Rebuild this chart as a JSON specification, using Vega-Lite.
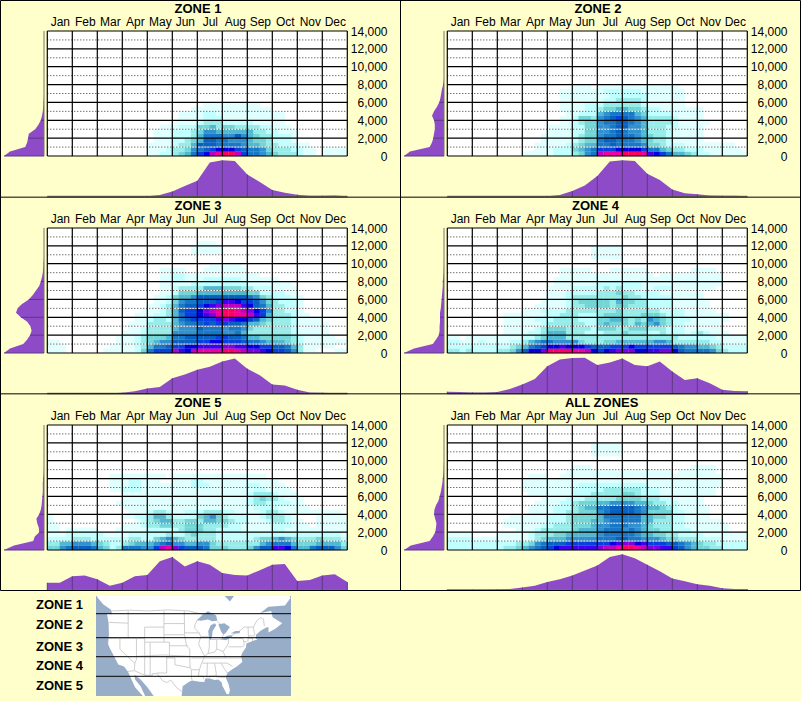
{"$schema":"https://vega.github.io/schema/vega-lite/v6.json","width":801,"height":701,"padding":0,"autosize":{"type":"none"},"background":"#FFFFCC","config":{"view":{"stroke":null},"axis":{"labelFont":"Liberation Sans","labelFontSize":12,"labelColor":"#000"},"text":{"font":"Liberation Sans"}},
"datasets":{
"plot":[{"a":0.5,"b":48.5,"c":0,"d":14000}],
"ocean":[{"a":0,"b":1,"c":0,"d":100}],
"zero":[{"z":0}],
"mon":[{"m":0.5},{"m":4.5},{"m":8.5},{"m":12.5},{"m":16.5},{"m":20.5},{"m":24.5},{"m":28.5},{"m":32.5},{"m":36.5},{"m":40.5},{"m":44.5},{"m":48.5}],
"sol":[{"k":0},{"k":2000},{"k":4000},{"k":6000},{"k":8000},{"k":10000},{"k":12000},{"k":14000}],
"dot":[{"k":1000},{"k":3000},{"k":5000},{"k":7000},{"k":9000},{"k":11000},{"k":13000}],
"c1":[
{"e":250,"v":[0,0,0,0,0,0,0,0,0,0,0,0,0,0,0,0,1,1,2,2,3,4,5,7,9,10,13,14,15,15,13,9,7,7,6,5,4,3,3,3,2,1,1,0,1,1,1,1]},
{"e":750,"v":[0,0,0,0,0,0,0,0,0,0,0,0,0,0,0,0,1,1,1,2,3,3,4,6,7,8,9,10,10,10,9,8,7,7,6,4,3,3,3,2,2,1,1,0,1,1,1,1]},
{"e":1250,"v":[0,0,0,0,0,0,0,0,0,0,0,0,0,0,0,0,1,1,1,1,2,3,3,5,8,8,8,7,7,7,7,6,5,5,4,3,3,2,2,2,1,1]},
{"e":1750,"v":[0,0,0,0,0,0,0,0,0,0,0,0,0,0,0,0,0,1,1,1,2,2,3,4,5,8,8,7,7,6,6,6,5,4,4,3,2,2,2,1]},
{"e":2250,"v":[0,0,0,0,0,0,0,0,0,0,0,0,0,0,0,0,0,1,1,1,2,2,2,3,5,7,7,7,6,6,8,6,5,4,3,3,2,2,2,1]},
{"e":2750,"v":[0,0,0,0,0,0,0,0,0,0,0,0,0,0,0,0,0,1,1,1,2,2,2,3,4,6,6,5,5,5,5,5,5,3,3,2,2,1,1,1]},
{"e":3250,"v":[0,0,0,0,0,0,0,0,0,0,0,0,0,0,0,0,0,0,1,1,1,2,2,2,4,4,5,3,4,4,3,3,3,3,2,2,1,1,1]},
{"e":3750,"v":[0,0,0,0,0,0,0,0,0,0,0,0,0,0,0,0,0,0,0,0,1,1,1,1,2,3,3,3,2,2,2,2,2,1,1,1,1,1]},
{"e":4250,"v":[0,0,0,0,0,0,0,0,0,0,0,0,0,0,0,0,0,0,0,0,0,1,1,1,1,2,2,2,1,1,1,1,1,1,1,1,1,1]},
{"e":4750,"v":[0,0,0,0,0,0,0,0,0,0,0,0,0,0,0,0,0,0,0,0,0,1,1,1,1,2,2,1,1,1,1,1,1,1,1,1,1,1]},
{"e":5250,"v":[0,0,0,0,0,0,0,0,0,0,0,0,0,0,0,0,0,0,0,0,0,0,0,1,1,1,1,1,1,1,1,1,1,1,1,1]},
{"e":5750,"v":[0,0,0,0,0,0,0,0,0,0,0,0,0,0,0,0,0,0,0,0,0,0,0,0,0,1,1,1,1,1,1,1,1,1]}],
"c2":[
{"e":250,"v":[0,0,0,0,0,0,0,0,0,0,0,0,1,1,1,1,1,2,2,2,3,4,6,7,13,14,14,14,15,15,15,14,11,10,9,7,5,5,4,3,2,2,1,1,1,1,1,1]},
{"e":750,"v":[0,0,0,0,0,0,0,0,0,0,0,0,0,0,1,1,1,2,2,2,4,5,6,7,9,9,9,10,10,10,10,9,7,7,5,4,3,3,2,2,2,1,1,1,1,1,1]},
{"e":1250,"v":[0,0,0,0,0,0,0,0,0,0,0,0,0,0,1,1,1,1,1,2,3,4,5,5,7,7,8,7,7,7,7,6,4,4,3,2,2,2,1,1,1,1,1,1,1,1]},
{"e":1750,"v":[0,0,0,0,0,0,0,0,0,0,0,0,0,0,0,1,1,1,1,1,2,3,4,4,7,8,8,7,7,7,6,5,4,3,3,2,1,1,1,1,1]},
{"e":2250,"v":[0,0,0,0,0,0,0,0,0,0,0,0,0,0,0,1,1,1,1,1,2,3,4,4,6,7,7,8,7,7,6,5,4,3,3,2,1,1,1,1,1]},
{"e":2750,"v":[0,0,0,0,0,0,0,0,0,0,0,0,0,0,0,0,1,1,1,1,2,2,4,4,6,6,7,8,7,6,6,5,3,3,3,2,1,1,1,1,1]},
{"e":3250,"v":[0,0,0,0,0,0,0,0,0,0,0,0,0,0,0,0,1,1,1,1,2,2,4,4,6,6,7,8,8,6,6,5,3,3,3,2,2,1,1,1,1]},
{"e":3750,"v":[0,0,0,0,0,0,0,0,0,0,0,0,0,0,0,0,0,0,1,1,2,3,4,4,6,7,7,8,8,7,6,5,3,3,3,3,2,1,1,1,1,1]},
{"e":4250,"v":[0,0,0,0,0,0,0,0,0,0,0,0,0,0,0,0,0,0,1,1,2,4,4,3,6,7,8,9,8,7,6,5,3,3,3,3,2,1,1,1,1]},
{"e":4750,"v":[0,0,0,0,0,0,0,0,0,0,0,0,0,0,0,0,0,0,0,1,1,2,2,2,5,6,7,7,7,7,5,4,2,2,2,2,1,1,1,1,1]},
{"e":5250,"v":[0,0,0,0,0,0,0,0,0,0,0,0,0,0,0,0,0,0,1,1,1,1,2,2,3,4,4,5,5,4,4,3,2,2,1,1,1,1,1,1,1]},
{"e":5750,"v":[0,0,0,0,0,0,0,0,0,0,0,0,0,0,0,0,0,0,1,1,1,1,2,2,2,3,3,3,3,3,3,2,1,1,1,1,1,1]},
{"e":6250,"v":[0,0,0,0,0,0,0,0,0,0,0,0,0,0,0,0,0,0,1,1,1,1,1,1,1,2,2,3,3,3,3,2,1,1,1,1,1,1]},
{"e":6750,"v":[0,0,0,0,0,0,0,0,0,0,0,0,0,0,0,0,0,0,1,1,1,1,1,1,1,1,2,2,2,2,2,2,1,1,1,1,1,1]},
{"e":7250,"v":[0,0,0,0,0,0,0,0,0,0,0,0,0,0,0,0,0,0,1,1,1,1,1,1,1,2,2,2,2,2,2,1,1,1,1,1,1,1]},
{"e":7750,"v":[0,0,0,0,0,0,0,0,0,0,0,0,0,0,0,0,0,0,0,0,1,1,1,0,1,1,1,1,1,1,1,1,1,1,1,1,1]}],
"c3":[
{"e":250,"v":[1,1,1,0,0,0,0,0,0,1,1,1,1,1,2,4,7,9,9,9,13,11,10,13,14,14,14,14,15,15,14,13,12,12,11,10,9,9,8,6,3,1,1,0,0,0,1,1]},
{"e":750,"v":[1,1,1,0,0,0,0,0,0,0,1,1,1,1,2,3,5,7,7,8,9,9,10,10,11,11,11,11,12,12,11,11,10,10,9,9,8,8,7,5,3,1,1,1,1,1]},
{"e":1250,"v":[1,1,0,0,0,0,0,0,0,0,0,1,1,1,2,3,4,5,6,6,8,8,8,8,9,9,10,10,9,9,9,8,7,7,6,5,5,5,4,3,2,1,1,1,1,1,1,1]},
{"e":1750,"v":[0,0,0,0,0,0,0,0,0,0,0,1,1,1,2,3,4,4,4,5,7,7,8,8,8,8,8,9,9,8,8,7,5,5,4,4,4,4,4,3,2,1,1,1,1,1]},
{"e":2250,"v":[0,0,0,0,0,0,0,0,0,0,0,0,1,1,1,2,3,3,3,3,6,6,6,6,7,7,7,7,6,6,7,5,3,3,3,3,3,3,3,2,1,1,1,1,1]},
{"e":2750,"v":[0,0,0,0,0,0,0,0,0,0,0,0,0,1,1,2,3,3,3,3,5,6,6,6,8,7,7,7,6,7,7,6,4,3,3,3,3,3,3,2,1,1,1,1,1]},
{"e":3250,"v":[0,0,0,0,0,0,0,0,0,0,0,0,0,1,1,1,3,3,3,3,5,6,7,7,8,9,8,9,9,8,8,7,5,5,4,3,3,3,3,2,1,1,1,1,1]},
{"e":3750,"v":[0,0,0,0,0,0,0,0,0,0,0,0,0,0,1,1,2,3,3,2,5,7,8,9,9,9,9,11,12,11,10,10,9,8,5,4,3,3,3,2,1,1,1,1]},
{"e":4250,"v":[0,0,0,0,0,0,0,0,0,0,0,0,0,0,1,1,1,2,2,3,5,7,9,9,10,11,12,14,15,15,14,14,13,11,9,5,3,3,3,2,1,1]},
{"e":4750,"v":[0,0,0,0,0,0,0,0,0,0,0,0,0,0,0,1,1,1,2,3,5,8,9,9,10,12,13,14,15,15,14,13,12,10,9,6,3,3,2,2,1]},
{"e":5250,"v":[0,0,0,0,0,0,0,0,0,0,0,0,0,0,0,0,1,1,2,3,5,7,8,8,9,10,11,12,13,13,13,11,10,8,7,5,3,3,2,2,1]},
{"e":5750,"v":[0,0,0,0,0,0,0,0,0,0,0,0,0,0,0,0,0,1,1,2,4,6,7,7,8,8,8,9,11,11,10,9,9,8,6,4,3,2,2,2,1]},
{"e":6250,"v":[0,0,0,0,0,0,0,0,0,0,0,0,0,0,0,0,0,1,1,2,4,5,5,6,8,8,8,8,8,8,8,8,7,6,4,3,2,2,2,1,1]},
{"e":6750,"v":[0,0,0,0,0,0,0,0,0,0,0,0,0,0,0,0,0,0,1,1,2,4,4,4,5,5,5,5,5,5,5,5,4,4,2,2,2,2,1,1]},
{"e":7250,"v":[0,0,0,0,0,0,0,0,0,0,0,0,0,0,0,0,0,0,1,1,2,3,3,3,3,5,5,5,4,4,4,3,3,2,2,2,1,1,1,1]},
{"e":7750,"v":[0,0,0,0,0,0,0,0,0,0,0,0,0,0,0,0,0,0,1,1,1,1,1,2,2,2,2,2,2,2,2,2,1,1,1,1,1,1,1]},
{"e":8250,"v":[0,0,0,0,0,0,0,0,0,0,0,0,0,0,0,0,0,0,1,1,2,2,1,1,1,2,2,2,2,2,2,1,1,1,1,1,1]},
{"e":8750,"v":[0,0,0,0,0,0,0,0,0,0,0,0,0,0,0,0,0,0,1,1,2,2,1,1,1,1,1,1,1,1,1,1,1,1]},
{"e":9250,"v":[0,0,0,0,0,0,0,0,0,0,0,0,0,0,0,0,0,0,1,1,1,1,0,0,0,1,1,1,1,1,1,1]},
{"e":9750,"v":[0,0,0,0,0,0,0,0,0,0,0,0,0,0,0,0,0,0,0,0,0,0,0,0,0,0,1,1,1,1,1]},
{"e":11250,"v":[0,0,0,0,0,0,0,0,0,0,0,0,0,0,0,0,0,0,0,0,0,0,0,1,1,1,1,1]},
{"e":11750,"v":[0,0,0,0,0,0,0,0,0,0,0,0,0,0,0,0,0,0,0,0,0,0,0,1,1,1,1,1]},
{"e":12250,"v":[0,0,0,0,0,0,0,0,0,0,0,0,0,0,0,0,0,0,0,0,0,0,0,0,1,1,1]}],
"c4":[
{"e":250,"v":[3,3,2,3,2,2,2,2,3,3,4,6,8,10,10,12,15,15,15,15,14,14,13,10,9,10,11,12,12,12,10,10,11,11,12,12,10,8,7,7,7,7,6,4,3,2,2,2]},
{"e":750,"v":[2,2,2,2,2,2,2,2,2,2,3,4,5,7,8,9,10,10,11,10,10,10,9,8,8,8,9,9,9,10,9,9,9,9,9,9,8,7,6,6,5,5,4,3,2,2,2,2]},
{"e":1250,"v":[2,2,1,1,1,2,1,1,1,1,2,2,3,5,6,7,7,6,6,6,6,4,3,3,3,4,4,5,5,5,5,5,5,6,6,5,3,3,3,3,3,3,2,2,1,1,1,1]},
{"e":1750,"v":[1,1,0,1,1,1,1,1,1,1,1,1,2,2,3,4,5,5,5,3,3,3,3,3,3,3,3,3,3,3,3,3,3,3,3,3,3,2,2,2,2,2,2,1,1,1,1,1]},
{"e":2250,"v":[0,0,0,0,0,0,0,0,0,1,1,1,1,2,2,3,5,5,5,3,3,3,2,2,2,3,3,3,4,3,3,3,2,2,3,2,2,2,1,2,3,2,1,1,1]},
{"e":2750,"v":[0,0,0,0,0,0,0,0,0,1,1,1,1,1,2,3,4,4,4,3,3,3,3,2,4,4,4,3,3,4,4,4,3,3,3,2,2,2,1,1,1,1,1,1]},
{"e":3250,"v":[0,0,0,0,0,0,0,0,0,1,1,1,1,1,1,2,3,3,3,3,3,3,2,2,4,5,4,4,4,3,5,4,5,6,4,3,2,2,1,1,1,1,1,1]},
{"e":3750,"v":[0,0,0,0,0,0,0,0,0,1,1,1,1,1,2,2,2,3,3,3,3,2,2,2,4,4,5,5,4,3,4,3,6,5,4,3,2,2,2,1,1,1,1,1,1]},
{"e":4250,"v":[0,0,0,0,0,0,0,0,0,1,1,1,1,1,1,1,2,2,3,3,3,2,2,2,3,4,4,4,3,3,3,4,4,4,3,2,2,2,1,1,1,1,1,1,1]},
{"e":4750,"v":[0,0,0,0,0,0,0,0,0,0,0,0,1,1,1,2,2,2,2,3,3,3,3,3,3,3,3,4,3,3,3,3,3,3,2,2,2,2,1,1,1,1,1]},
{"e":5250,"v":[0,0,0,0,0,0,0,0,0,0,0,0,0,0,1,1,1,1,1,2,3,3,4,4,4,4,3,4,4,3,3,3,2,2,2,2,1,1,1,1,1,1]},
{"e":5750,"v":[0,0,0,0,0,0,0,0,0,0,0,0,0,0,0,1,1,1,1,2,3,4,4,4,4,4,3,5,4,4,3,3,2,2,2,2,1,1,1,1,1,1]},
{"e":6250,"v":[0,0,0,0,0,0,0,0,0,0,0,0,0,0,0,0,1,1,1,2,3,3,3,3,3,3,3,3,4,3,3,2,2,2,2,2,1,1,1,1,1]},
{"e":6750,"v":[0,0,0,0,0,0,0,0,0,0,0,0,0,0,0,0,1,1,1,2,2,2,2,2,3,3,3,4,3,3,2,2,2,2,1,1,1,1,1,1,1]},
{"e":7250,"v":[0,0,0,0,0,0,0,0,0,0,0,0,0,0,0,0,1,1,1,1,2,2,2,2,2,3,2,3,2,2,2,1,1,2,2,2,1,1,1,1,1,1,1]},
{"e":7750,"v":[0,0,0,0,0,0,0,0,0,0,0,0,0,0,0,0,0,1,1,1,1,1,1,1,2,2,2,2,2,2,2,1,1,1,1,1,1,1,1,1,1,1,1,1]},
{"e":8250,"v":[0,0,0,0,0,0,0,0,0,0,0,0,0,0,0,0,0,1,1,1,1,1,1,1,1,1,1,1,1,1,1,1,1,1,1,1,1,1,1,1,1,1,1,1]},
{"e":8750,"v":[0,0,0,0,0,0,0,0,0,0,0,0,0,0,0,0,0,0,1,1,1,1,1,1,1,1,1,1,1,1,1,1,1,0,1,1,1,1,1,1,1,1,1,1]},
{"e":9250,"v":[0,0,0,0,0,0,0,0,0,0,0,0,0,0,0,0,0,0,1,1,1,1,1,0,0,0,1,1,1,1,1,1,0,0,0,0,0,0,0,1,1,1,1]},
{"e":11250,"v":[0,0,0,0,0,0,0,0,0,0,0,0,0,0,0,0,0,0,0,0,0,0,0,1,1,1,1,1]},
{"e":11750,"v":[0,0,0,0,0,0,0,0,0,0,0,0,0,0,0,0,0,0,0,0,0,0,0,1,1,1,1,1]},
{"e":10750,"v":[0,0,0,0,0,0,0,0,0,0,0,0,0,0,0,0,0,0,0,0,0,0,0,1,1,1,1,1]}],
"c5":[
{"e":250,"v":[4,4,6,7,8,8,8,7,5,4,2,3,7,7,7,6,6,9,13,14,12,9,8,8,8,7,4,4,4,3,3,3,4,6,8,8,11,11,10,7,5,5,7,8,8,8,6,4]},
{"e":750,"v":[3,3,5,5,6,6,6,5,4,3,2,2,3,4,5,5,5,6,7,8,6,6,5,5,6,6,4,3,3,3,3,3,3,3,5,6,7,7,7,5,4,4,4,5,5,5,5,3]},
{"e":1250,"v":[2,2,2,2,3,3,3,2,2,2,2,2,2,3,3,2,2,4,5,6,5,4,3,3,3,3,3,2,2,2,2,2,2,3,4,4,5,6,5,4,3,3,3,4,3,3,3,2]},
{"e":1750,"v":[1,1,1,2,2,2,2,2,2,1,1,1,1,2,2,2,2,2,2,3,2,2,3,4,3,3,3,2,2,2,2,2,2,2,2,2,2,2,2,2,2,2,2,2,2,2,2,1]},
{"e":2250,"v":[1,1,0,1,1,1,1,1,0,0,0,1,1,1,1,1,2,2,2,2,2,3,4,4,4,3,3,2,2,2,2,1,1,1,1,1,2,2,1,1,1,1,1,1,1,1,1,1]},
{"e":2750,"v":[1,1,0,0,0,0,0,0,0,0,0,0,1,1,1,2,3,3,4,4,3,3,4,4,4,3,3,3,3,2,2,1,1,1,1,1,2,2,2,1,1,1,0,1,1,1,1,1]},
{"e":3250,"v":[1,0,0,0,0,0,0,0,0,0,0,0,0,0,1,2,3,4,5,5,3,3,4,4,3,5,5,4,4,3,2,2,1,1,1,2,3,3,2,1,1,0,0,1,1,1,1,1]},
{"e":3750,"v":[1,0,0,0,0,0,0,0,0,0,0,0,1,1,2,2,3,5,5,3,2,2,2,2,4,5,6,4,3,2,2,2,1,1,2,3,3,3,2,1,0,0,0,1,1,1,1,1]},
{"e":4250,"v":[0,0,0,0,0,0,0,0,0,0,0,0,0,1,1,1,2,3,3,2,1,1,2,2,2,3,3,3,2,2,1,1,1,1,2,3,3,2,1,1,1,1,1,1,1,1,1]},
{"e":4750,"v":[0,0,0,0,0,0,0,0,0,0,0,0,1,1,1,1,1,1,1,1,1,1,1,1,1,1,1,1,1,1,1,1,1,2,2,2,2,1,1,1,1,1]},
{"e":5250,"v":[0,0,0,0,0,0,0,0,0,0,0,1,1,1,1,1,1,1,1,1,1,1,1,1,1,1,1,1,1,1,1,1,2,3,3,2,2,2,2,1,1]},
{"e":5750,"v":[0,0,0,0,0,0,0,0,0,0,0,0,1,1,1,1,1,1,1,1,1,1,1,1,1,1,1,1,1,1,1,1,2,3,4,3,3,2,1,1,1]},
{"e":6250,"v":[0,0,0,0,0,0,0,0,0,0,0,0,1,1,1,1,1,1,1,1,1,1,1,1,1,1,1,1,1,1,1,1,2,3,3,3,2,1,1,1]},
{"e":6750,"v":[0,0,0,0,0,0,0,0,0,0,1,1,2,2,2,1,1,1,1,1,1,1,1,1,1,1,1,1,1,1,1,1,1,2,2,1,1,1,1]},
{"e":7250,"v":[0,0,0,0,0,0,0,0,0,0,1,1,1,2,2,1,1,1,1,1,1,1,1,2,2,2,1,1,1,1,1,1,2,2,1,1,1,1]},
{"e":7750,"v":[0,0,0,0,0,0,0,0,0,0,1,1,1,2,2,1,1,1,0,0,1,1,1,2,2,1,1,1,1,1,1,1,1,1,1,1,1]},
{"e":8250,"v":[0,0,0,0,0,0,0,0,0,0,1,1,1,1,1,1,1,1,1,0,1,1,1,1,1,1,1,1,1,1,1,1,1,1,1]}],
"c6":[
{"e":250,"v":[2,2,2,2,2,2,2,2,2,3,3,4,5,6,7,8,9,10,11,11,11,11,11,11,12,13,13,14,15,15,14,13,12,12,11,11,9,8,6,5,4,4,3,3,2,2,2,2]},
{"e":750,"v":[2,2,2,2,2,2,2,2,2,2,2,3,3,4,6,7,8,8,8,9,9,9,9,9,9,9,10,11,12,12,10,11,9,9,9,8,8,7,6,5,4,3,3,2,2,2,2,2]},
{"e":1250,"v":[2,2,2,2,1,1,1,1,1,1,1,1,1,2,3,4,5,5,5,6,6,6,6,6,7,7,7,8,8,7,7,6,6,6,5,4,4,3,3,3,2,2,2,2,1,1,1,1]},
{"e":1750,"v":[1,1,1,1,0,0,0,0,1,1,1,1,1,2,3,3,3,4,4,5,5,5,5,5,6,7,7,7,7,7,6,5,5,4,4,3,3,2,2,2,2,1,1,1,1,1,1,1]},
{"e":2250,"v":[0,0,0,0,0,0,0,0,0,0,0,1,1,1,2,3,3,3,3,3,4,5,5,5,6,7,7,7,6,7,6,5,4,4,3,3,2,2,2,1,1,1,1,1,1]},
{"e":2750,"v":[0,0,0,0,0,0,0,0,0,1,1,1,1,1,1,2,2,3,3,3,4,4,4,5,6,6,7,7,7,6,6,5,4,3,3,3,2,2,1,1,1,1,1,1,1]},
{"e":3250,"v":[0,0,0,0,0,0,0,0,0,1,1,1,1,1,1,1,2,2,2,3,4,4,4,5,5,6,7,7,7,7,7,5,5,3,3,3,2,2,1,1,1,1,1,1]},
{"e":3750,"v":[0,0,0,0,0,0,0,0,0,0,1,1,1,1,1,1,2,2,2,3,4,4,4,4,5,7,7,7,7,7,7,5,5,4,4,3,2,2,1,1,1,1]},
{"e":4250,"v":[0,0,0,0,0,0,0,0,0,0,0,0,0,1,1,1,1,2,2,3,3,4,4,4,6,7,8,8,8,8,7,6,4,4,4,4,2,2,1,1,1,1]},
{"e":4750,"v":[0,0,0,0,0,0,0,0,0,0,0,0,0,1,1,1,1,2,2,2,3,4,5,5,7,7,8,8,8,8,7,6,5,5,4,3,2,1,1,1,1,1]},
{"e":5250,"v":[0,0,0,0,0,0,0,0,0,0,0,0,0,0,1,1,1,1,2,2,3,4,4,4,5,5,6,6,6,6,5,5,4,3,3,2,2,1,1,1,1]},
{"e":5750,"v":[0,0,0,0,0,0,0,0,0,0,0,0,0,0,0,1,1,1,1,2,2,2,3,3,3,3,3,4,4,4,4,3,3,3,2,2,1,1,1,1,1]},
{"e":6250,"v":[0,0,0,0,0,0,0,0,0,0,0,0,0,1,1,1,1,1,1,1,2,2,2,3,3,3,3,3,4,4,3,2,2,2,1,1,1,1,1,1,1,1,1]},
{"e":6750,"v":[0,0,0,0,0,0,0,0,0,0,0,0,1,1,1,1,1,1,1,1,2,2,2,2,2,3,3,3,3,3,3,2,2,2,1,1,1,1,1,1,1,1,1]},
{"e":7250,"v":[0,0,0,0,0,0,0,0,0,0,0,0,1,1,1,1,1,1,1,1,1,2,2,2,2,2,2,2,2,2,2,2,1,1,1,1,1,1,1,1,1,1,1,1]},
{"e":7750,"v":[0,0,0,0,0,0,0,0,0,0,0,0,1,1,1,1,1,1,1,1,1,1,1,1,1,1,1,1,1,1,1,1,1,1,1,1,1,1,1,1,1,1,1,1]},
{"e":8250,"v":[0,0,0,0,0,0,0,0,0,0,0,0,0,1,1,1,0,0,1,1,1,1,1,1,1,1,1,1,1,1,1,1,1,1,1,1,1,1,1,1,1,1,1,1]},
{"e":8750,"v":[0,0,0,0,0,0,0,0,0,0,0,0,0,0,0,0,0,0,0,1,1,1,1,1,1,1,1,1,1,1,1,1,1,1,1,1,0,1,1,1,1,1,1]},
{"e":9250,"v":[0,0,0,0,0,0,0,0,0,0,0,0,0,0,0,0,0,0,0,0,1,1,1,0,0,0,0,0,0,0,0,0,0,0,0,0,0,0,0,1,1,1,1]},
{"e":10750,"v":[0,0,0,0,0,0,0,0,0,0,0,0,0,0,0,0,0,0,0,0,0,0,0,1,1,1,1,1]},
{"e":11250,"v":[0,0,0,0,0,0,0,0,0,0,0,0,0,0,0,0,0,0,0,0,0,0,0,1,1,1,1,1]},
{"e":11750,"v":[0,0,0,0,0,0,0,0,0,0,0,0,0,0,0,0,0,0,0,0,0,0,0,1,1,1,1,1]}],
"b1":[{"h":[0.5,0.5,0.5,0.5,0.5,0.5,0.5,0.5,1,4,14,29,43,93,99,97,60,40,18,10,5,2,2,3,1]}],
"b2":[{"h":[0.5,0.5,0.5,0.5,0.5,0.5,0.5,1,1,4,15,30,56,96,99,97,62,45,19,9,6,3,2,2,1]}],
"b3":[{"h":[1,1,1,1,1,1,2,6,14,18,42,52,65,73,88,96,68,50,25,22,10,3,2,1,1]}],
"b4":[{"h":[5,4,3,3,4,12,25,40,75,93,97,98,78,85,96,78,75,88,60,37,42,28,10,7,6]}],
"b5":[{"h":[20,20,38,40,30,12,20,38,42,80,92,65,80,70,47,42,40,55,70,72,25,28,40,44,22]}],
"b6":[{"h":[1,1,1,1,1.5,3,7,12,22,30,40,54,68,92,99,88,70,52,32,24,16,12,5,3,2]}],
"l1":[{"h":[100,85,47,42,40,38,22,14,8,5,3,2,1,0.5,0,0,0,0,0,0,0,0,0,0,0,0,0,0,0]}],
"l2":[{"h":[100,85,36,30,27,25,23,23,25,30,25,18,12,9,7,5,2,0.5,0,0,0,0,0,0,0,0,0,0,0]}],
"l3":[{"h":[100,85,52,42,35,31,34,42,58,70,66,55,38,28,20,12,8,5,3,2,1,0.5,0,0,0,0,0,0,0]}],
"l4":[{"h":[100,75,28,20,13,11,11,10,10,10,8,7,6,5,4,3,3,2,1,0.5,0,0,0,0,0,0,0,0,0]}],
"l5":[{"h":[100,75,27,23,12,13,17,19,12,8,6,5,4,3,3,3,2,1,0.5,0,0,0,0,0,0,0,0,0,0]}],
"l6":[{"h":[100,83,36,28,22,20,19,22,25,24,20,14,11,8,6,4,3,2,1,0.5,0,0,0,0,0,0,0,0,0]}]
},
"resolve":{"scale":{"x":"independent","y":"independent"},"axis":{"x":"independent","y":"independent"}},
"layer":[
{"resolve":{"axis":{"x":"independent","y":"independent"}},"layer":[
{"data":{"name":"plot"},"mark":{"type":"rect","color":"#fff"},"encoding":{"x":{"field":"a","type":"quantitative","axis":null},"x2":{"field":"b"},"y":{"field":"c","type":"quantitative","axis":null},"y2":{"field":"d"}}},
{"data":{"name":"c1"},"transform":[{"flatten":["v"]},{"window":[{"op":"row_number","as":"c"}],"groupby":["e"]},{"filter":"datum.v>0"}],"mark":{"type":"rect","width":6.5,"height":4.7},"encoding":{"x":{"field":"c","type":"quantitative","scale":{"domain":[0.5,48.5],"range":[47.3,347.3],"nice":false,"zero":false},"axis":{"orient":"top","offset":-31,"values":[2.5,6.5,10.5,14.5,18.5,22.5,26.5,30.5,34.5,38.5,42.5,46.5],"labelExpr":"['Jan','Feb','Mar','Apr','May','Jun','Jul','Aug','Sep','Oct','Nov','Dec'][round((datum.value-2.5)/4)]","domain":false,"ticks":false,"grid":false,"title":null,"labelPadding":3,"labelOverlap":false,"labelFlush":false}},"y":{"field":"e","type":"quantitative","scale":{"domain":[0,14000],"range":[156,31],"nice":false,"zero":false},"axis":{"orient":"right","offset":-454,"values":[0,2000,4000,6000,8000,10000,12000,14000],"labelExpr":"datum.value===0?'0\u00a0\u00a0\u00a0\u00a0\u00a0\u00a0\u00a0':format(datum.value,',')","domain":false,"ticks":false,"grid":false,"title":null,"labelPadding":40,"labelAlign":"right","labelBaseline":"middle","labelOverlap":false,"labelFlush":false}},"color":{"field":"v","type":"quantitative","legend":null,"scale":{"domain":[1,2,3,4,5,6,7,8,9,10,11,12,13,14,15],"range":["#E0FFFF","#BFFFFF","#96ECE8","#73D5D5","#50B8D0","#3090D0","#1878C8","#0860C0","#0840E0","#0000E0","#4000F0","#8000E0","#C000C0","#F000A0","#FF0060"]}}}},
{"data":{"name":"dot"},"mark":{"type":"rule","color":"#fff"},"encoding":{"x":{"datum":0.5,"axis":null},"x2":{"datum":48.5},"y":{"field":"k","type":"quantitative","axis":null}}},
{"data":{"name":"dot"},"mark":{"type":"rule","color":"#333","strokeDash":[1,2]},"encoding":{"x":{"datum":0.5,"axis":null},"x2":{"datum":48.5},"y":{"field":"k","type":"quantitative","axis":null}}},
{"data":{"name":"sol"},"mark":{"type":"rule","color":"#000","strokeWidth":1.2},"encoding":{"x":{"datum":0.5,"axis":null},"x2":{"datum":48.5},"y":{"field":"k","type":"quantitative","axis":null}}},
{"data":{"name":"mon"},"mark":{"type":"rule","color":"#000","strokeWidth":1.2},"encoding":{"x":{"field":"m","type":"quantitative","axis":null},"y":{"datum":0,"axis":null},"y2":{"datum":14000}}},
{"data":{"values":[{"t":"ZONE 1"}]},"mark":{"type":"text","fontWeight":"bold","fontSize":13,"baseline":"middle"},"encoding":{"x":{"datum":24.6,"axis":null},"y":{"datum":16450,"axis":null},"text":{"field":"t"}}}
]},
{"resolve":{"axis":{"x":"independent","y":"independent"}},"layer":[
{"data":{"name":"plot"},"mark":{"type":"rect","color":"#fff"},"encoding":{"x":{"field":"a","type":"quantitative","axis":null},"x2":{"field":"b"},"y":{"field":"c","type":"quantitative","axis":null},"y2":{"field":"d"}}},
{"data":{"name":"c2"},"transform":[{"flatten":["v"]},{"window":[{"op":"row_number","as":"c"}],"groupby":["e"]},{"filter":"datum.v>0"}],"mark":{"type":"rect","width":6.5,"height":4.7},"encoding":{"x":{"field":"c","type":"quantitative","scale":{"domain":[0.5,48.5],"range":[447.3,747.3],"nice":false,"zero":false},"axis":{"orient":"top","offset":-31,"values":[2.5,6.5,10.5,14.5,18.5,22.5,26.5,30.5,34.5,38.5,42.5,46.5],"labelExpr":"['Jan','Feb','Mar','Apr','May','Jun','Jul','Aug','Sep','Oct','Nov','Dec'][round((datum.value-2.5)/4)]","domain":false,"ticks":false,"grid":false,"title":null,"labelPadding":3,"labelOverlap":false,"labelFlush":false}},"y":{"field":"e","type":"quantitative","scale":{"domain":[0,14000],"range":[156,31],"nice":false,"zero":false},"axis":{"orient":"right","offset":-54,"values":[0,2000,4000,6000,8000,10000,12000,14000],"labelExpr":"datum.value===0?'0\u00a0\u00a0\u00a0\u00a0\u00a0\u00a0\u00a0':format(datum.value,',')","domain":false,"ticks":false,"grid":false,"title":null,"labelPadding":40,"labelAlign":"right","labelBaseline":"middle","labelOverlap":false,"labelFlush":false}},"color":{"field":"v","type":"quantitative","legend":null}}},
{"data":{"name":"dot"},"mark":{"type":"rule","color":"#fff"},"encoding":{"x":{"datum":0.5,"axis":null},"x2":{"datum":48.5},"y":{"field":"k","type":"quantitative","axis":null}}},
{"data":{"name":"dot"},"mark":{"type":"rule","color":"#333","strokeDash":[1,2]},"encoding":{"x":{"datum":0.5,"axis":null},"x2":{"datum":48.5},"y":{"field":"k","type":"quantitative","axis":null}}},
{"data":{"name":"sol"},"mark":{"type":"rule","color":"#000","strokeWidth":1.2},"encoding":{"x":{"datum":0.5,"axis":null},"x2":{"datum":48.5},"y":{"field":"k","type":"quantitative","axis":null}}},
{"data":{"name":"mon"},"mark":{"type":"rule","color":"#000","strokeWidth":1.2},"encoding":{"x":{"field":"m","type":"quantitative","axis":null},"y":{"datum":0,"axis":null},"y2":{"datum":14000}}},
{"data":{"values":[{"t":"ZONE 2"}]},"mark":{"type":"text","fontWeight":"bold","fontSize":13,"baseline":"middle"},"encoding":{"x":{"datum":24.6,"axis":null},"y":{"datum":16450,"axis":null},"text":{"field":"t"}}}
]},
{"resolve":{"axis":{"x":"independent","y":"independent"}},"layer":[
{"data":{"name":"plot"},"mark":{"type":"rect","color":"#fff"},"encoding":{"x":{"field":"a","type":"quantitative","axis":null},"x2":{"field":"b"},"y":{"field":"c","type":"quantitative","axis":null},"y2":{"field":"d"}}},
{"data":{"name":"c3"},"transform":[{"flatten":["v"]},{"window":[{"op":"row_number","as":"c"}],"groupby":["e"]},{"filter":"datum.v>0"}],"mark":{"type":"rect","width":6.5,"height":4.7},"encoding":{"x":{"field":"c","type":"quantitative","scale":{"domain":[0.5,48.5],"range":[47.3,347.3],"nice":false,"zero":false},"axis":{"orient":"top","offset":-228,"values":[2.5,6.5,10.5,14.5,18.5,22.5,26.5,30.5,34.5,38.5,42.5,46.5],"labelExpr":"['Jan','Feb','Mar','Apr','May','Jun','Jul','Aug','Sep','Oct','Nov','Dec'][round((datum.value-2.5)/4)]","domain":false,"ticks":false,"grid":false,"title":null,"labelPadding":3,"labelOverlap":false,"labelFlush":false}},"y":{"field":"e","type":"quantitative","scale":{"domain":[0,14000],"range":[353,228],"nice":false,"zero":false},"axis":{"orient":"right","offset":-454,"values":[0,2000,4000,6000,8000,10000,12000,14000],"labelExpr":"datum.value===0?'0\u00a0\u00a0\u00a0\u00a0\u00a0\u00a0\u00a0':format(datum.value,',')","domain":false,"ticks":false,"grid":false,"title":null,"labelPadding":40,"labelAlign":"right","labelBaseline":"middle","labelOverlap":false,"labelFlush":false}},"color":{"field":"v","type":"quantitative","legend":null}}},
{"data":{"name":"dot"},"mark":{"type":"rule","color":"#fff"},"encoding":{"x":{"datum":0.5,"axis":null},"x2":{"datum":48.5},"y":{"field":"k","type":"quantitative","axis":null}}},
{"data":{"name":"dot"},"mark":{"type":"rule","color":"#333","strokeDash":[1,2]},"encoding":{"x":{"datum":0.5,"axis":null},"x2":{"datum":48.5},"y":{"field":"k","type":"quantitative","axis":null}}},
{"data":{"name":"sol"},"mark":{"type":"rule","color":"#000","strokeWidth":1.2},"encoding":{"x":{"datum":0.5,"axis":null},"x2":{"datum":48.5},"y":{"field":"k","type":"quantitative","axis":null}}},
{"data":{"name":"mon"},"mark":{"type":"rule","color":"#000","strokeWidth":1.2},"encoding":{"x":{"field":"m","type":"quantitative","axis":null},"y":{"datum":0,"axis":null},"y2":{"datum":14000}}},
{"data":{"values":[{"t":"ZONE 3"}]},"mark":{"type":"text","fontWeight":"bold","fontSize":13,"baseline":"middle"},"encoding":{"x":{"datum":24.6,"axis":null},"y":{"datum":16450,"axis":null},"text":{"field":"t"}}}
]},
{"resolve":{"axis":{"x":"independent","y":"independent"}},"layer":[
{"data":{"name":"plot"},"mark":{"type":"rect","color":"#fff"},"encoding":{"x":{"field":"a","type":"quantitative","axis":null},"x2":{"field":"b"},"y":{"field":"c","type":"quantitative","axis":null},"y2":{"field":"d"}}},
{"data":{"name":"c4"},"transform":[{"flatten":["v"]},{"window":[{"op":"row_number","as":"c"}],"groupby":["e"]},{"filter":"datum.v>0"}],"mark":{"type":"rect","width":6.5,"height":4.7},"encoding":{"x":{"field":"c","type":"quantitative","scale":{"domain":[0.5,48.5],"range":[447.3,747.3],"nice":false,"zero":false},"axis":{"orient":"top","offset":-228,"values":[2.5,6.5,10.5,14.5,18.5,22.5,26.5,30.5,34.5,38.5,42.5,46.5],"labelExpr":"['Jan','Feb','Mar','Apr','May','Jun','Jul','Aug','Sep','Oct','Nov','Dec'][round((datum.value-2.5)/4)]","domain":false,"ticks":false,"grid":false,"title":null,"labelPadding":3,"labelOverlap":false,"labelFlush":false}},"y":{"field":"e","type":"quantitative","scale":{"domain":[0,14000],"range":[353,228],"nice":false,"zero":false},"axis":{"orient":"right","offset":-54,"values":[0,2000,4000,6000,8000,10000,12000,14000],"labelExpr":"datum.value===0?'0\u00a0\u00a0\u00a0\u00a0\u00a0\u00a0\u00a0':format(datum.value,',')","domain":false,"ticks":false,"grid":false,"title":null,"labelPadding":40,"labelAlign":"right","labelBaseline":"middle","labelOverlap":false,"labelFlush":false}},"color":{"field":"v","type":"quantitative","legend":null}}},
{"data":{"name":"dot"},"mark":{"type":"rule","color":"#fff"},"encoding":{"x":{"datum":0.5,"axis":null},"x2":{"datum":48.5},"y":{"field":"k","type":"quantitative","axis":null}}},
{"data":{"name":"dot"},"mark":{"type":"rule","color":"#333","strokeDash":[1,2]},"encoding":{"x":{"datum":0.5,"axis":null},"x2":{"datum":48.5},"y":{"field":"k","type":"quantitative","axis":null}}},
{"data":{"name":"sol"},"mark":{"type":"rule","color":"#000","strokeWidth":1.2},"encoding":{"x":{"datum":0.5,"axis":null},"x2":{"datum":48.5},"y":{"field":"k","type":"quantitative","axis":null}}},
{"data":{"name":"mon"},"mark":{"type":"rule","color":"#000","strokeWidth":1.2},"encoding":{"x":{"field":"m","type":"quantitative","axis":null},"y":{"datum":0,"axis":null},"y2":{"datum":14000}}},
{"data":{"values":[{"t":"ZONE 4"}]},"mark":{"type":"text","fontWeight":"bold","fontSize":13,"baseline":"middle"},"encoding":{"x":{"datum":24.2,"axis":null},"y":{"datum":16450,"axis":null},"text":{"field":"t"}}}
]},
{"resolve":{"axis":{"x":"independent","y":"independent"}},"layer":[
{"data":{"name":"plot"},"mark":{"type":"rect","color":"#fff"},"encoding":{"x":{"field":"a","type":"quantitative","axis":null},"x2":{"field":"b"},"y":{"field":"c","type":"quantitative","axis":null},"y2":{"field":"d"}}},
{"data":{"name":"c5"},"transform":[{"flatten":["v"]},{"window":[{"op":"row_number","as":"c"}],"groupby":["e"]},{"filter":"datum.v>0"}],"mark":{"type":"rect","width":6.5,"height":4.7},"encoding":{"x":{"field":"c","type":"quantitative","scale":{"domain":[0.5,48.5],"range":[47.3,347.3],"nice":false,"zero":false},"axis":{"orient":"top","offset":-425,"values":[2.5,6.5,10.5,14.5,18.5,22.5,26.5,30.5,34.5,38.5,42.5,46.5],"labelExpr":"['Jan','Feb','Mar','Apr','May','Jun','Jul','Aug','Sep','Oct','Nov','Dec'][round((datum.value-2.5)/4)]","domain":false,"ticks":false,"grid":false,"title":null,"labelPadding":3,"labelOverlap":false,"labelFlush":false}},"y":{"field":"e","type":"quantitative","scale":{"domain":[0,14000],"range":[550,425],"nice":false,"zero":false},"axis":{"orient":"right","offset":-454,"values":[0,2000,4000,6000,8000,10000,12000,14000],"labelExpr":"datum.value===0?'0\u00a0\u00a0\u00a0\u00a0\u00a0\u00a0\u00a0':format(datum.value,',')","domain":false,"ticks":false,"grid":false,"title":null,"labelPadding":40,"labelAlign":"right","labelBaseline":"middle","labelOverlap":false,"labelFlush":false}},"color":{"field":"v","type":"quantitative","legend":null}}},
{"data":{"name":"dot"},"mark":{"type":"rule","color":"#fff"},"encoding":{"x":{"datum":0.5,"axis":null},"x2":{"datum":48.5},"y":{"field":"k","type":"quantitative","axis":null}}},
{"data":{"name":"dot"},"mark":{"type":"rule","color":"#333","strokeDash":[1,2]},"encoding":{"x":{"datum":0.5,"axis":null},"x2":{"datum":48.5},"y":{"field":"k","type":"quantitative","axis":null}}},
{"data":{"name":"sol"},"mark":{"type":"rule","color":"#000","strokeWidth":1.2},"encoding":{"x":{"datum":0.5,"axis":null},"x2":{"datum":48.5},"y":{"field":"k","type":"quantitative","axis":null}}},
{"data":{"name":"mon"},"mark":{"type":"rule","color":"#000","strokeWidth":1.2},"encoding":{"x":{"field":"m","type":"quantitative","axis":null},"y":{"datum":0,"axis":null},"y2":{"datum":14000}}},
{"data":{"values":[{"t":"ZONE 5"}]},"mark":{"type":"text","fontWeight":"bold","fontSize":13,"baseline":"middle"},"encoding":{"x":{"datum":24.6,"axis":null},"y":{"datum":16450,"axis":null},"text":{"field":"t"}}}
]},
{"resolve":{"axis":{"x":"independent","y":"independent"}},"layer":[
{"data":{"name":"plot"},"mark":{"type":"rect","color":"#fff"},"encoding":{"x":{"field":"a","type":"quantitative","axis":null},"x2":{"field":"b"},"y":{"field":"c","type":"quantitative","axis":null},"y2":{"field":"d"}}},
{"data":{"name":"c6"},"transform":[{"flatten":["v"]},{"window":[{"op":"row_number","as":"c"}],"groupby":["e"]},{"filter":"datum.v>0"}],"mark":{"type":"rect","width":6.5,"height":4.7},"encoding":{"x":{"field":"c","type":"quantitative","scale":{"domain":[0.5,48.5],"range":[447.3,747.3],"nice":false,"zero":false},"axis":{"orient":"top","offset":-425,"values":[2.5,6.5,10.5,14.5,18.5,22.5,26.5,30.5,34.5,38.5,42.5,46.5],"labelExpr":"['Jan','Feb','Mar','Apr','May','Jun','Jul','Aug','Sep','Oct','Nov','Dec'][round((datum.value-2.5)/4)]","domain":false,"ticks":false,"grid":false,"title":null,"labelPadding":3,"labelOverlap":false,"labelFlush":false}},"y":{"field":"e","type":"quantitative","scale":{"domain":[0,14000],"range":[550,425],"nice":false,"zero":false},"axis":{"orient":"right","offset":-54,"values":[0,2000,4000,6000,8000,10000,12000,14000],"labelExpr":"datum.value===0?'0\u00a0\u00a0\u00a0\u00a0\u00a0\u00a0\u00a0':format(datum.value,',')","domain":false,"ticks":false,"grid":false,"title":null,"labelPadding":40,"labelAlign":"right","labelBaseline":"middle","labelOverlap":false,"labelFlush":false}},"color":{"field":"v","type":"quantitative","legend":null}}},
{"data":{"name":"dot"},"mark":{"type":"rule","color":"#fff"},"encoding":{"x":{"datum":0.5,"axis":null},"x2":{"datum":48.5},"y":{"field":"k","type":"quantitative","axis":null}}},
{"data":{"name":"dot"},"mark":{"type":"rule","color":"#333","strokeDash":[1,2]},"encoding":{"x":{"datum":0.5,"axis":null},"x2":{"datum":48.5},"y":{"field":"k","type":"quantitative","axis":null}}},
{"data":{"name":"sol"},"mark":{"type":"rule","color":"#000","strokeWidth":1.2},"encoding":{"x":{"datum":0.5,"axis":null},"x2":{"datum":48.5},"y":{"field":"k","type":"quantitative","axis":null}}},
{"data":{"name":"mon"},"mark":{"type":"rule","color":"#000","strokeWidth":1.2},"encoding":{"x":{"field":"m","type":"quantitative","axis":null},"y":{"datum":0,"axis":null},"y2":{"datum":14000}}},
{"data":{"values":[{"t":"ALL ZONES"}]},"mark":{"type":"text","fontWeight":"bold","fontSize":13,"baseline":"middle"},"encoding":{"x":{"datum":25.2,"axis":null},"y":{"datum":16450,"axis":null},"text":{"field":"t"}}}
]},
{"layer":[
{"data":{"name":"l1"},"transform":[{"flatten":["h"]},{"window":[{"op":"row_number","as":"n"}]}],"mark":{"type":"area","orient":"horizontal","color":"#8E4BC8"},"encoding":{"x":{"field":"h","type":"quantitative","stack":null,"axis":null,"scale":{"domain":[0,100],"range":[44,4],"nice":false}},"y":{"field":"n","type":"quantitative","axis":null,"scale":{"domain":[1,29],"range":[156,31],"nice":false,"zero":false}}}},
{"data":{"name":"zero"},"mark":{"type":"rule","color":"#777766"},"encoding":{"x":{"field":"z","type":"quantitative","axis":null},"y":{"datum":1,"axis":null},"y2":{"datum":29}}},
{"data":{"name":"l1"},"transform":[{"flatten":["h"]},{"window":[{"op":"row_number","as":"n"}]},{"filter":"datum.n%4==1 && datum.h>0"}],"mark":{"type":"rule","color":"#5A3A80"},"encoding":{"x":{"field":"h","type":"quantitative","axis":null},"x2":{"datum":0},"y":{"field":"n","type":"quantitative","axis":null}}}]},
{"layer":[
{"data":{"name":"l2"},"transform":[{"flatten":["h"]},{"window":[{"op":"row_number","as":"n"}]}],"mark":{"type":"area","orient":"horizontal","color":"#8E4BC8"},"encoding":{"x":{"field":"h","type":"quantitative","stack":null,"axis":null,"scale":{"domain":[0,100],"range":[444,404],"nice":false}},"y":{"field":"n","type":"quantitative","axis":null,"scale":{"domain":[1,29],"range":[156,31],"nice":false,"zero":false}}}},
{"data":{"name":"zero"},"mark":{"type":"rule","color":"#777766"},"encoding":{"x":{"field":"z","type":"quantitative","axis":null},"y":{"datum":1,"axis":null},"y2":{"datum":29}}},
{"data":{"name":"l2"},"transform":[{"flatten":["h"]},{"window":[{"op":"row_number","as":"n"}]},{"filter":"datum.n%4==1 && datum.h>0"}],"mark":{"type":"rule","color":"#5A3A80"},"encoding":{"x":{"field":"h","type":"quantitative","axis":null},"x2":{"datum":0},"y":{"field":"n","type":"quantitative","axis":null}}}]},
{"layer":[
{"data":{"name":"l3"},"transform":[{"flatten":["h"]},{"window":[{"op":"row_number","as":"n"}]}],"mark":{"type":"area","orient":"horizontal","color":"#8E4BC8"},"encoding":{"x":{"field":"h","type":"quantitative","stack":null,"axis":null,"scale":{"domain":[0,100],"range":[44,4],"nice":false}},"y":{"field":"n","type":"quantitative","axis":null,"scale":{"domain":[1,29],"range":[353,228],"nice":false,"zero":false}}}},
{"data":{"name":"zero"},"mark":{"type":"rule","color":"#777766"},"encoding":{"x":{"field":"z","type":"quantitative","axis":null},"y":{"datum":1,"axis":null},"y2":{"datum":29}}},
{"data":{"name":"l3"},"transform":[{"flatten":["h"]},{"window":[{"op":"row_number","as":"n"}]},{"filter":"datum.n%4==1 && datum.h>0"}],"mark":{"type":"rule","color":"#5A3A80"},"encoding":{"x":{"field":"h","type":"quantitative","axis":null},"x2":{"datum":0},"y":{"field":"n","type":"quantitative","axis":null}}}]},
{"layer":[
{"data":{"name":"l4"},"transform":[{"flatten":["h"]},{"window":[{"op":"row_number","as":"n"}]}],"mark":{"type":"area","orient":"horizontal","color":"#8E4BC8"},"encoding":{"x":{"field":"h","type":"quantitative","stack":null,"axis":null,"scale":{"domain":[0,100],"range":[444,404],"nice":false}},"y":{"field":"n","type":"quantitative","axis":null,"scale":{"domain":[1,29],"range":[353,228],"nice":false,"zero":false}}}},
{"data":{"name":"zero"},"mark":{"type":"rule","color":"#777766"},"encoding":{"x":{"field":"z","type":"quantitative","axis":null},"y":{"datum":1,"axis":null},"y2":{"datum":29}}},
{"data":{"name":"l4"},"transform":[{"flatten":["h"]},{"window":[{"op":"row_number","as":"n"}]},{"filter":"datum.n%4==1 && datum.h>0"}],"mark":{"type":"rule","color":"#5A3A80"},"encoding":{"x":{"field":"h","type":"quantitative","axis":null},"x2":{"datum":0},"y":{"field":"n","type":"quantitative","axis":null}}}]},
{"layer":[
{"data":{"name":"l5"},"transform":[{"flatten":["h"]},{"window":[{"op":"row_number","as":"n"}]}],"mark":{"type":"area","orient":"horizontal","color":"#8E4BC8"},"encoding":{"x":{"field":"h","type":"quantitative","stack":null,"axis":null,"scale":{"domain":[0,100],"range":[44,4],"nice":false}},"y":{"field":"n","type":"quantitative","axis":null,"scale":{"domain":[1,29],"range":[550,425],"nice":false,"zero":false}}}},
{"data":{"name":"zero"},"mark":{"type":"rule","color":"#777766"},"encoding":{"x":{"field":"z","type":"quantitative","axis":null},"y":{"datum":1,"axis":null},"y2":{"datum":29}}},
{"data":{"name":"l5"},"transform":[{"flatten":["h"]},{"window":[{"op":"row_number","as":"n"}]},{"filter":"datum.n%4==1 && datum.h>0"}],"mark":{"type":"rule","color":"#5A3A80"},"encoding":{"x":{"field":"h","type":"quantitative","axis":null},"x2":{"datum":0},"y":{"field":"n","type":"quantitative","axis":null}}}]},
{"layer":[
{"data":{"name":"l6"},"transform":[{"flatten":["h"]},{"window":[{"op":"row_number","as":"n"}]}],"mark":{"type":"area","orient":"horizontal","color":"#8E4BC8"},"encoding":{"x":{"field":"h","type":"quantitative","stack":null,"axis":null,"scale":{"domain":[0,100],"range":[444,404],"nice":false}},"y":{"field":"n","type":"quantitative","axis":null,"scale":{"domain":[1,29],"range":[550,425],"nice":false,"zero":false}}}},
{"data":{"name":"zero"},"mark":{"type":"rule","color":"#777766"},"encoding":{"x":{"field":"z","type":"quantitative","axis":null},"y":{"datum":1,"axis":null},"y2":{"datum":29}}},
{"data":{"name":"l6"},"transform":[{"flatten":["h"]},{"window":[{"op":"row_number","as":"n"}]},{"filter":"datum.n%4==1 && datum.h>0"}],"mark":{"type":"rule","color":"#5A3A80"},"encoding":{"x":{"field":"h","type":"quantitative","axis":null},"x2":{"datum":0},"y":{"field":"n","type":"quantitative","axis":null}}}]},
{"layer":[
{"data":{"name":"b1"},"transform":[{"flatten":["h"]},{"window":[{"op":"row_number","as":"n"}]}],"mark":{"type":"area","color":"#8E4BC8"},"encoding":{"x":{"field":"n","type":"quantitative","axis":null,"scale":{"domain":[1,25],"range":[47.3,347.3],"nice":false,"zero":false}},"y":{"field":"h","type":"quantitative","stack":null,"axis":null,"scale":{"domain":[0,100],"range":[196.5,160],"nice":false}}}},
{"data":{"name":"zero"},"mark":{"type":"rule","color":"#777766","strokeWidth":1.5},"encoding":{"x":{"datum":1,"axis":null},"x2":{"datum":25},"y":{"field":"z","type":"quantitative","axis":null}}},
{"data":{"name":"b1"},"transform":[{"flatten":["h"]},{"window":[{"op":"row_number","as":"n"}]},{"filter":"datum.n%2==1"}],"mark":{"type":"rule","color":"#5A3A80"},"encoding":{"x":{"field":"n","type":"quantitative","axis":null},"y":{"field":"h","type":"quantitative","axis":null},"y2":{"datum":0}}}]},
{"layer":[
{"data":{"name":"b2"},"transform":[{"flatten":["h"]},{"window":[{"op":"row_number","as":"n"}]}],"mark":{"type":"area","color":"#8E4BC8"},"encoding":{"x":{"field":"n","type":"quantitative","axis":null,"scale":{"domain":[1,25],"range":[447.3,747.3],"nice":false,"zero":false}},"y":{"field":"h","type":"quantitative","stack":null,"axis":null,"scale":{"domain":[0,100],"range":[196.5,160],"nice":false}}}},
{"data":{"name":"zero"},"mark":{"type":"rule","color":"#777766","strokeWidth":1.5},"encoding":{"x":{"datum":1,"axis":null},"x2":{"datum":25},"y":{"field":"z","type":"quantitative","axis":null}}},
{"data":{"name":"b2"},"transform":[{"flatten":["h"]},{"window":[{"op":"row_number","as":"n"}]},{"filter":"datum.n%2==1"}],"mark":{"type":"rule","color":"#5A3A80"},"encoding":{"x":{"field":"n","type":"quantitative","axis":null},"y":{"field":"h","type":"quantitative","axis":null},"y2":{"datum":0}}}]},
{"layer":[
{"data":{"name":"b3"},"transform":[{"flatten":["h"]},{"window":[{"op":"row_number","as":"n"}]}],"mark":{"type":"area","color":"#8E4BC8"},"encoding":{"x":{"field":"n","type":"quantitative","axis":null,"scale":{"domain":[1,25],"range":[47.3,347.3],"nice":false,"zero":false}},"y":{"field":"h","type":"quantitative","stack":null,"axis":null,"scale":{"domain":[0,100],"range":[393.5,357],"nice":false}}}},
{"data":{"name":"zero"},"mark":{"type":"rule","color":"#777766","strokeWidth":1.5},"encoding":{"x":{"datum":1,"axis":null},"x2":{"datum":25},"y":{"field":"z","type":"quantitative","axis":null}}},
{"data":{"name":"b3"},"transform":[{"flatten":["h"]},{"window":[{"op":"row_number","as":"n"}]},{"filter":"datum.n%2==1"}],"mark":{"type":"rule","color":"#5A3A80"},"encoding":{"x":{"field":"n","type":"quantitative","axis":null},"y":{"field":"h","type":"quantitative","axis":null},"y2":{"datum":0}}}]},
{"layer":[
{"data":{"name":"b4"},"transform":[{"flatten":["h"]},{"window":[{"op":"row_number","as":"n"}]}],"mark":{"type":"area","color":"#8E4BC8"},"encoding":{"x":{"field":"n","type":"quantitative","axis":null,"scale":{"domain":[1,25],"range":[447.3,747.3],"nice":false,"zero":false}},"y":{"field":"h","type":"quantitative","stack":null,"axis":null,"scale":{"domain":[0,100],"range":[393.5,357],"nice":false}}}},
{"data":{"name":"zero"},"mark":{"type":"rule","color":"#777766","strokeWidth":1.5},"encoding":{"x":{"datum":1,"axis":null},"x2":{"datum":25},"y":{"field":"z","type":"quantitative","axis":null}}},
{"data":{"name":"b4"},"transform":[{"flatten":["h"]},{"window":[{"op":"row_number","as":"n"}]},{"filter":"datum.n%2==1"}],"mark":{"type":"rule","color":"#5A3A80"},"encoding":{"x":{"field":"n","type":"quantitative","axis":null},"y":{"field":"h","type":"quantitative","axis":null},"y2":{"datum":0}}}]},
{"layer":[
{"data":{"name":"b5"},"transform":[{"flatten":["h"]},{"window":[{"op":"row_number","as":"n"}]}],"mark":{"type":"area","color":"#8E4BC8"},"encoding":{"x":{"field":"n","type":"quantitative","axis":null,"scale":{"domain":[1,25],"range":[47.3,347.3],"nice":false,"zero":false}},"y":{"field":"h","type":"quantitative","stack":null,"axis":null,"scale":{"domain":[0,100],"range":[590,554],"nice":false}}}},
{"data":{"name":"zero"},"mark":{"type":"rule","color":"#777766","strokeWidth":1.5},"encoding":{"x":{"datum":1,"axis":null},"x2":{"datum":25},"y":{"field":"z","type":"quantitative","axis":null}}},
{"data":{"name":"b5"},"transform":[{"flatten":["h"]},{"window":[{"op":"row_number","as":"n"}]},{"filter":"datum.n%2==1"}],"mark":{"type":"rule","color":"#5A3A80"},"encoding":{"x":{"field":"n","type":"quantitative","axis":null},"y":{"field":"h","type":"quantitative","axis":null},"y2":{"datum":0}}}]},
{"layer":[
{"data":{"name":"b6"},"transform":[{"flatten":["h"]},{"window":[{"op":"row_number","as":"n"}]}],"mark":{"type":"area","color":"#8E4BC8"},"encoding":{"x":{"field":"n","type":"quantitative","axis":null,"scale":{"domain":[1,25],"range":[447.3,747.3],"nice":false,"zero":false}},"y":{"field":"h","type":"quantitative","stack":null,"axis":null,"scale":{"domain":[0,100],"range":[590,554],"nice":false}}}},
{"data":{"name":"zero"},"mark":{"type":"rule","color":"#777766","strokeWidth":1.5},"encoding":{"x":{"datum":1,"axis":null},"x2":{"datum":25},"y":{"field":"z","type":"quantitative","axis":null}}},
{"data":{"name":"b6"},"transform":[{"flatten":["h"]},{"window":[{"op":"row_number","as":"n"}]},{"filter":"datum.n%2==1"}],"mark":{"type":"rule","color":"#5A3A80"},"encoding":{"x":{"field":"n","type":"quantitative","axis":null},"y":{"field":"h","type":"quantitative","axis":null},"y2":{"datum":0}}}]},
{"layer":[
{"data":{"values":[{"p":0},{"p":1},{"p":2}]},"mark":{"type":"rule","color":"#000","strokeWidth":1},"encoding":{"x":{"field":"p","type":"quantitative","axis":null,"scale":{"domain":[0,2],"range":[0.5,800.5],"nice":false,"zero":false}},"y":{"datum":0,"axis":null,"scale":{"domain":[0,3],"range":[0.5,590.5],"nice":false,"zero":false}},"y2":{"datum":3}}},
{"data":{"values":[{"p":0},{"p":1},{"p":2},{"p":3}]},"mark":{"type":"rule","color":"#000","strokeWidth":1},"encoding":{"x":{"datum":0,"axis":null},"x2":{"datum":2},"y":{"field":"p","type":"quantitative","axis":null}}}
]},
{"layer":[
{"data":{"name":"ocean"},"mark":{"type":"rect","color":"#98AEC8"},"encoding":{"x":{"field":"a","type":"quantitative","axis":null,"scale":{"domain":[0,1],"range":[96,291],"nice":false,"zero":false}},"x2":{"field":"b"},"y":{"field":"c","type":"quantitative","axis":null,"scale":{"domain":[0,100],"range":[596,696],"nice":false,"zero":false}},"y2":{"field":"d"}}}
]},
{"projection":{"type":"mercator","scale":157.6,"translate":[450,766],"clipExtent":[[96,596],[291,696]]},"layer":[
{"data":{"values":[{"type":"Feature","properties":{"k":"land"},"geometry":{"type":"Polygon","coordinates":[[[-135,56],[-120,56],[-100,56],[-82,56],[-82,52.5],[-80,51.2],[-78.5,52.5],[-77,55],[-60,55],[-58,52],[-60,50.3],[-66,50],[-69,48.5],[-65,49],[-64.5,47.5],[-61,46],[-63.5,44.6],[-66,43.6],[-66,45],[-67,44.8],[-69,44],[-70.5,43],[-70.7,42],[-70,41.7],[-71.5,41.4],[-74,40.6],[-74.2,39.5],[-75.5,38],[-76,37],[-75.5,35.3],[-77.5,34],[-79,33.2],[-81,32],[-81.5,30.5],[-80.5,28.5],[-80,26.5],[-80.4,25.2],[-81.2,25.3],[-82,26.8],[-82.8,28],[-83,29],[-84.2,30],[-85.5,29.8],[-87.5,30.3],[-89,30.3],[-89.3,29.2],[-91,29.3],[-93.8,29.7],[-95,29.2],[-97.2,27.8],[-97.4,26],[-97.8,22.5],[-97,20],[-105,20],[-105.5,22.5],[-108,25],[-110,27.5],[-112.5,30],[-114.7,31.5],[-114.5,30],[-112.5,27.8],[-110.5,24],[-110,23],[-112,25],[-114.5,27.5],[-115.8,30],[-117.1,32.5],[-118.5,34],[-120.6,34.6],[-122,36.8],[-123.8,39.5],[-124.3,40.5],[-124,43],[-124.1,46],[-124.7,48.3],[-122.8,48.2],[-123.2,49.3],[-126,50.5],[-128,52],[-130,54],[-135,56]]]}}]},"mark":{"type":"geoshape","fill":"#FFFFFF","stroke":null},"encoding":{}},
{"data":{"values":[{"type":"Feature","properties":{"k":"borders"},"geometry":{"type":"MultiLineString","coordinates":[[[-123,49],[-110,49],[-95,49],[-89,48]],[[-84.5,46.5],[-82.5,45]],[[-82.4,43],[-83,42]],[[-79,43],[-76.5,44],[-74.8,45],[-71.5,45],[-70.3,46.5],[-69,47.4],[-67.8,47],[-67.5,45.2]],[[-117,49],[-117,42]],[[-124,46.2],[-117,46]],[[-124.2,42],[-111,42]],[[-111,45],[-104,45]],[[-104,49],[-104,41]],[[-111,45],[-111,31.3]],[[-111,41],[-102,41]],[[-102,41],[-102,37]],[[-114,42],[-114,36],[-114.6,35],[-114.7,32.7]],[[-120,42],[-120,39],[-114.6,35]],[[-114,37],[-94.6,37]],[[-109,41],[-109,31.3]],[[-103,37],[-103,32]],[[-106.6,32],[-103,32]],[[-94.6,37],[-94.5,33.6],[-94,33],[-94,31],[-93.8,29.7]],[[-102,40],[-95.3,40]],[[-104,43],[-96.5,43]],[[-104,45.9],[-96.6,45.9]],[[-96.6,49],[-96.5,43],[-95.8,40],[-94.6,39],[-94.6,37]],[[-96.5,43.5],[-91.2,43.5],[-90.6,42.5],[-91.4,40.5],[-90.2,38.5],[-89.2,37],[-89.7,36],[-90.3,35],[-91.1,33],[-91.5,31],[-89.7,31],[-89.6,30.2]],[[-94,36.5],[-90,36.5],[-89.5,36.5],[-75.9,36.5]],[[-94,33],[-91,33]],[[-90,35],[-84.3,35],[-81,35],[-79,34]],[[-88.2,35],[-88.4,30.3]],[[-85.6,35],[-85,32],[-85,31],[-87.5,31],[-87.5,30.3]],[[-85,30.8],[-82,30.6],[-81.5,30.7]],[[-83.3,35],[-81,32]],[[-90.6,47],[-92,46.7],[-92.8,45.5],[-92.8,44.7],[-91.2,43.5]],[[-90.6,42.5],[-87.8,42.5]],[[-87.5,41.7],[-87.5,39.5],[-88,37.8],[-89.2,37]],[[-84.8,41.7],[-84.8,39.1]],[[-87.5,41.7],[-80.5,41.9]],[[-88,37.8],[-85.5,38.2],[-84.8,39.1],[-82.5,38.4],[-81.7,39.2],[-80.6,40.6],[-80.5,42]],[[-82.5,38.4],[-82,37.5],[-81.7,36.6]],[[-80.5,39.7],[-75.8,39.7],[-75.2,39.8],[-74.8,40.3],[-75,41.3],[-73.9,41]],[[-79.7,42.1],[-75.3,42],[-75,41.3]],[[-73.4,45],[-73.3,42.7],[-73.5,41.1]],[[-73.3,42.7],[-71,42.7]],[[-73.4,42],[-71.5,42]],[[-71.5,45],[-71,43],[-70.8,43]],[[-71.8,42],[-71.8,41.3]],[[-106.5,31.8],[-104.5,29.6],[-103,29],[-101.5,29.8],[-99.5,27.5],[-97.3,26]],[[-117.1,32.5],[-114.7,32.7],[-111,31.3],[-108.2,31.3],[-108.2,31.8],[-106.5,31.8]],[[-103,36.5],[-100,36.5],[-100,34.5],[-97,34],[-94.5,33.6]]]}}]},"mark":{"type":"geoshape","filled":false,"stroke":"#C8C8C8","strokeWidth":0.9},"encoding":{}},
{"data":{"values":[{"type":"Feature","properties":{"k":"sup"},"geometry":{"type":"Polygon","coordinates":[[[-92,46.8],[-90,48],[-88,48.9],[-85,47.9],[-84.6,46.6],[-86.5,46.5],[-88,46.9],[-90.5,46.6],[-92,46.8]]]}},{"type":"Feature","properties":{"k":"mic"},"geometry":{"type":"Polygon","coordinates":[[[-87.6,41.8],[-87.9,44],[-87,45.5],[-85.5,46],[-85,45.5],[-86.3,44],[-86.5,42.5],[-87,41.7],[-87.6,41.8]]]}},{"type":"Feature","properties":{"k":"hur"},"geometry":{"type":"Polygon","coordinates":[[[-84.2,45.7],[-82,46],[-80,45],[-81.5,43.5],[-82.4,43],[-83.3,44],[-84.2,45.7]]]}},{"type":"Feature","properties":{"k":"eri"},"geometry":{"type":"Polygon","coordinates":[[[-83.4,41.8],[-81,42.7],[-79,42.9],[-79.2,42.5],[-81.5,41.5],[-83.4,41.8]]]}},{"type":"Feature","properties":{"k":"ont"},"geometry":{"type":"Polygon","coordinates":[[[-79.7,43.3],[-78,44],[-76.3,44],[-76.5,43.4],[-78,43.3],[-79.7,43.3]]]}}]},"mark":{"type":"geoshape","fill":"#98AEC8","stroke":null},"encoding":{}}
]},
{"layer":[
{"data":{"values":[{"z":17.7},{"z":41.7},{"z":60.7},{"z":80.3}]},"mark":{"type":"rule","color":"#000","strokeWidth":1},"encoding":{"x":{"datum":0,"axis":null,"scale":{"domain":[0,1],"range":[96,291],"nice":false,"zero":false}},"x2":{"datum":1},"y":{"field":"z","type":"quantitative","axis":null,"scale":{"domain":[0,100],"range":[596,696],"nice":false,"zero":false}}}}
]},
{"layer":[
{"data":{"values":[{"t":"ZONE 1","z":9},{"t":"ZONE 2","z":29},{"t":"ZONE 3","z":51},{"t":"ZONE 4","z":70},{"t":"ZONE 5","z":90}]},"mark":{"type":"text","fontWeight":"bold","fontSize":13,"align":"left","baseline":"middle"},"encoding":{"x":{"datum":0,"axis":null,"scale":{"domain":[0,1],"range":[36,83],"nice":false,"zero":false}},"y":{"field":"z","type":"quantitative","axis":null,"scale":{"domain":[0,100],"range":[596,696],"nice":false,"zero":false}},"text":{"field":"t"}}}
]}
]}
